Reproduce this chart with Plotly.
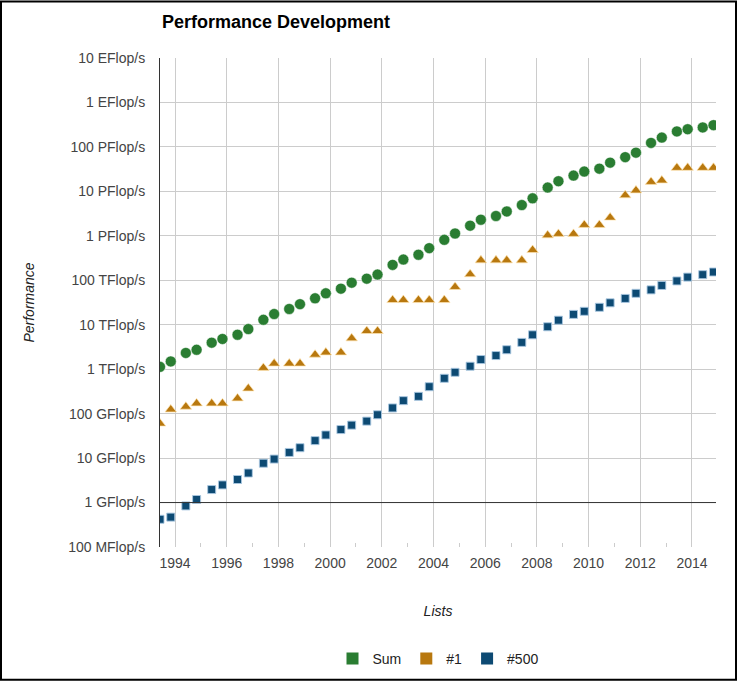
import plotly.graph_objects as go

# List dates: (year, month) of each TOP500 list
years = [1993, 1993, 1994, 1994, 1995, 1995, 1996, 1996, 1997, 1997, 1998, 1998,
         1999, 1999, 2000, 2000, 2001, 2001, 2002, 2002, 2003, 2003, 2004, 2004,
         2005, 2005, 2006, 2006, 2007, 2007, 2008, 2008, 2009, 2009, 2010, 2010,
         2011, 2011, 2012, 2012, 2013, 2013, 2014, 2014]
months = [6, 11] * 22

# Performance in GFlop/s
sum_gf = [1128, 1493, 2317, 2732, 3940, 4780, 5950, 7990, 12900, 17400, 22600, 29000,
          39300, 50900, 64700, 88100, 108600, 134400, 222000, 293000, 375000, 528000,
          813000, 1127000, 1690000, 2300000, 2790000, 3530000, 4920000, 6970000,
          12200000, 16900000, 22600000, 27900000, 32400000, 44200000, 58900000,
          74200000, 123000000, 162000000, 223000000, 250000000, 274000000, 309000000]
first_gf = [59.7, 124, 143.4, 170, 170, 170, 220.4, 368.2, 1068, 1338, 1338, 1338,
            2121, 2379, 2379, 4938, 7226, 7226, 35860, 35860, 35860, 35860, 35860,
            70720, 136800, 280600, 280600, 280600, 280600, 478200, 1026000, 1105000,
            1105000, 1759000, 1759000, 2566000, 8162000, 10510000, 16320000,
            17590000, 33860000, 33860000, 33860000, 33860000]
last_gf = [0.42, 0.47, 0.84, 1.17, 1.96, 2.49, 3.3, 4.62, 7.67, 9.51, 13.39, 17.12,
           24.73, 33.1, 43.82, 55.1, 67.78, 94.3, 134.3, 195.8, 245.1, 403.4, 624,
           851, 1166, 1646, 2026, 2737, 4005, 5929, 9000, 12640, 17090, 20050, 24670,
           31120, 39090, 50940, 60800, 76500, 96620, 117800, 133700, 153400]

y_tickvals = [1e8, 1e9, 1e10, 1e11, 1e12, 1e13, 1e14, 1e15, 1e16, 1e17, 1e18, 1e19]
y_ticktext = ["100 MFlop/s", "1 GFlop/s", "10 GFlop/s", "100 GFlop/s", "1 TFlop/s",
              "10 TFlop/s", "100 TFlop/s", "1 PFlop/s", "10 PFlop/s", "100 PFlop/s",
              "1 EFlop/s", "10 EFlop/s"]
x_tickvals = list(range(1994, 2015, 2))
x_ticktext = [str(v) for v in x_tickvals]

x = [y + (m - 1) / 12 for y, m in zip(years, months)]
to_flops = lambda arr: [v * 1e9 for v in arr]

c_sum, c_first, c_last = "#2a7d32", "#b8780f", "#0d4a73"

fig = go.Figure()
fig.add_trace(go.Scatter(x=x, y=to_flops(sum_gf), mode="markers", name="Sum",
                         showlegend=False,
                         marker=dict(symbol="circle", size=11, color=c_sum,
                                     line=dict(width=1, color="rgba(255,255,255,0.5)"))))
fig.add_trace(go.Scatter(x=x, y=to_flops(first_gf), mode="markers", name="#1",
                         showlegend=False,
                         marker=dict(symbol="triangle-up", size=10, color=c_first,
                                     line=dict(width=1, color="rgba(255,230,180,0.7)"))))
fig.add_trace(go.Scatter(x=x, y=to_flops(last_gf), mode="markers", name="#500",
                         showlegend=False,
                         marker=dict(symbol="square", size=8, color=c_last,
                                     line=dict(width=1, color="rgba(170,200,225,0.9)"))))
for nm, col in [("Sum", c_sum), ("#1", c_first), ("#500", c_last)]:
    fig.add_trace(go.Scatter(x=[None], y=[None], mode="markers", name=nm,
                             marker=dict(symbol="square", size=15, color=col)))

L, R, T, B = 160, 21, 58, 135
W, H = 737, 687
pw, ph = W - L - R, H - T - B

fig.update_layout(
    width=W, height=H,
    margin=dict(l=L, r=R, t=T, b=B),
    paper_bgcolor="white", plot_bgcolor="white",
    font=dict(family="Liberation Sans, Arial, sans-serif", size=14, color="#444"),
    title=dict(text="<b>Performance Development</b>", x=162 / W, xanchor="left",
               xref="container", y=1 - 22 / H, yanchor="middle", yref="container",
               font=dict(size=18, color="#000")),
    xaxis=dict(range=[1993 + 5 / 12, 2014.93], tickvals=x_tickvals, ticktext=x_ticktext,
               showgrid=True, gridcolor="#cccccc", gridwidth=1, zeroline=False,
               showline=False, ticks="", ticklabelstandoff=6,
               minor=dict(tickvals=list(range(1993, 2015, 2)), ticks="inside",
                          ticklen=4, tickcolor="#cccccc", showgrid=False),
               title=dict(text="<i>Lists</i>", font=dict(size=14, color="#222"),
                          standoff=36)),
    yaxis=dict(type="log", range=[8, 19], tickvals=y_tickvals, ticktext=y_ticktext,
               showgrid=True, gridcolor="#cccccc", gridwidth=1, zeroline=False,
               showline=True, linecolor="#333", linewidth=1, ticks="",
               ticklabelstandoff=11,
               title=dict(text="<i>Performance</i>", font=dict(size=14, color="#222"),
                          standoff=30)),
    legend=dict(orientation="h", x=0.5, xanchor="center", y=(ph - (665 - T)) / ph,
                yanchor="middle", font=dict(size=14, color="#222"),
                itemsizing="constant", bgcolor="rgba(0,0,0,0)"),
    shapes=[
        dict(type="line", xref="paper", yref="y", x0=0, x1=1, y0=1e9, y1=1e9,
             line=dict(color="#333", width=1)),
        dict(type="rect", xref="paper", yref="paper",
             x0=(1 - L) / pw, x1=(W - 1 - L) / pw,
             y0=(ph - (H - 1 - T)) / ph, y1=(ph - (1 - T)) / ph,
             line=dict(color="#000", width=2)),
    ],
)

fig.write_html("out.html", config={"displayModeBar": False},
               post_script="document.body.style.margin='0';document.body.style.overflow='hidden';")
